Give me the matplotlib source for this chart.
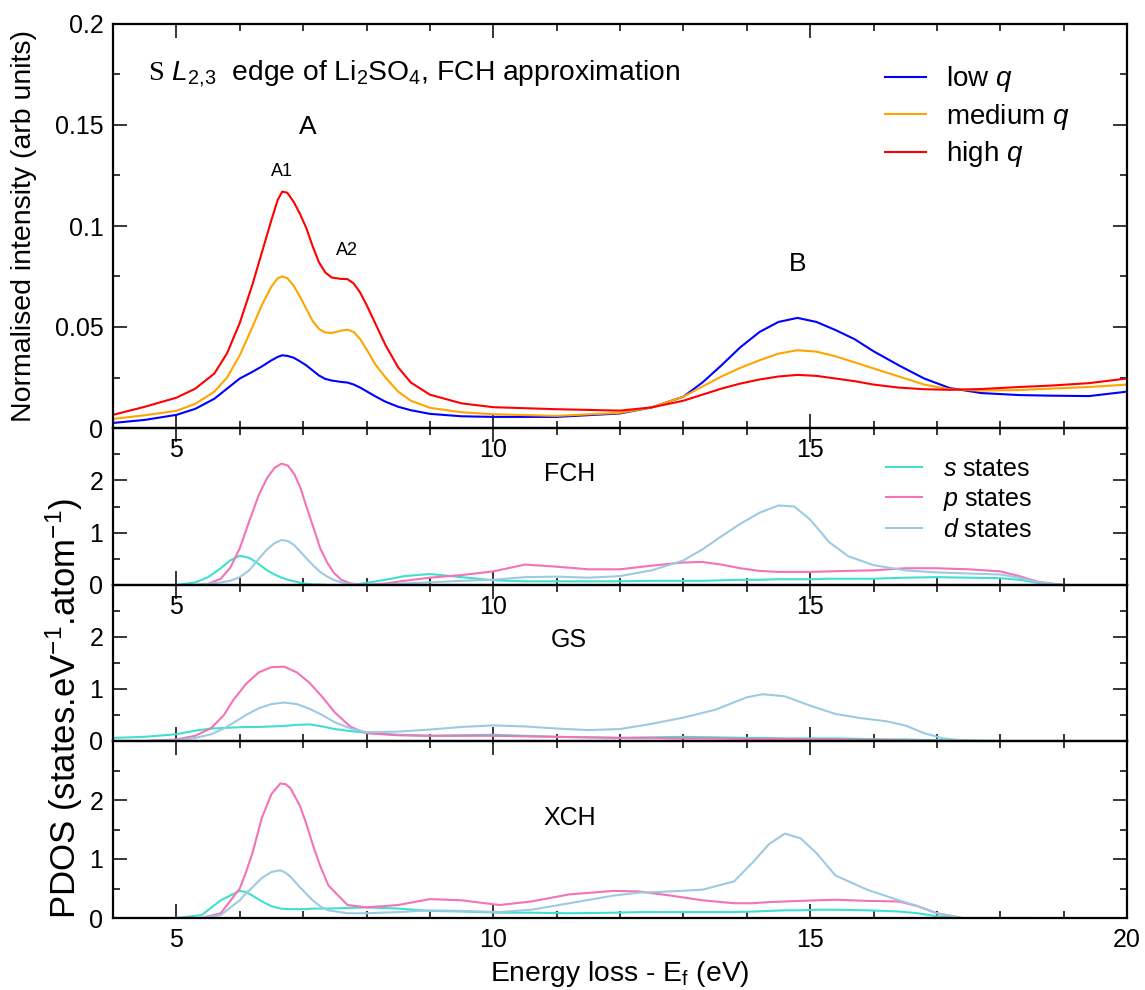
import numpy as np
import matplotlib
matplotlib.use("Agg")
import matplotlib.pyplot as plt
from matplotlib.ticker import MultipleLocator

plt.rcParams['font.family'] = ['Liberation Sans', 'DejaVu Sans']
plt.rcParams['mathtext.fontset'] = 'custom'
plt.rcParams['mathtext.rm'] = 'Liberation Sans'
plt.rcParams['mathtext.it'] = 'Liberation Sans:italic'
plt.rcParams['mathtext.sf'] = 'Liberation Serif'

# ---- top panel: S L2,3 ELNES for three momentum transfers ----
e_top = [4.0, 4.5, 5.0, 5.3, 5.6, 5.8, 6.0, 6.2, 6.35, 6.5, 6.6, 6.67, 6.75, 6.85, 6.95,
         7.05, 7.15, 7.25, 7.35, 7.45, 7.6, 7.7, 7.8, 7.9, 8.0, 8.15, 8.3, 8.5, 8.7, 9.0,
         9.5, 10.0, 11.0, 12.0, 12.5, 13.0, 13.3, 13.6, 13.9, 14.2, 14.5, 14.8, 15.1, 15.4,
         15.7, 16.0, 16.4, 16.8, 17.2, 17.7, 18.3, 18.8, 19.4, 20.0]
low_q = [0.0025, 0.0040, 0.0065, 0.0095, 0.0145, 0.0195, 0.0245, 0.0278, 0.0305, 0.0335,
         0.0352, 0.036, 0.0357, 0.0348, 0.033, 0.031, 0.0285, 0.026, 0.0243, 0.0235,
         0.0228, 0.0225, 0.0215, 0.0200, 0.0182, 0.0155, 0.0130, 0.0105, 0.0088, 0.0070,
         0.0058, 0.0055, 0.0055, 0.0072, 0.0102, 0.0155, 0.0225, 0.031, 0.040, 0.0475,
         0.0525, 0.0545, 0.0525, 0.0485, 0.044, 0.038, 0.031, 0.0245, 0.0198, 0.0173,
         0.0163, 0.016, 0.0158, 0.018]
medium_q = [0.0045, 0.0063, 0.0085, 0.012, 0.018, 0.025, 0.036, 0.050, 0.061, 0.070,
            0.0742, 0.075, 0.0742, 0.0705, 0.065, 0.059, 0.053, 0.049, 0.0473, 0.047,
            0.0482, 0.0487, 0.0475, 0.044, 0.039, 0.031, 0.025, 0.018, 0.0135, 0.0100,
            0.0078, 0.0068, 0.0060, 0.0075, 0.0102, 0.0155, 0.0205, 0.0255, 0.0298, 0.0335,
            0.0368, 0.0385, 0.0378, 0.0355, 0.0325, 0.0295, 0.0255, 0.0215, 0.0192, 0.0185,
            0.0188, 0.0195, 0.0203, 0.0215]
high_q = [0.0065, 0.0105, 0.015, 0.0195, 0.027, 0.037, 0.052, 0.071, 0.087, 0.103, 0.113,
          0.117, 0.1165, 0.112, 0.106, 0.099, 0.090, 0.082, 0.077, 0.0745, 0.0738, 0.0737,
          0.0715, 0.067, 0.061, 0.051, 0.041, 0.030, 0.0225, 0.0165, 0.0122, 0.0103,
          0.0093, 0.0086, 0.0102, 0.0135, 0.0165, 0.0195, 0.022, 0.024, 0.0255, 0.0263,
          0.0258, 0.0245, 0.0232, 0.0215, 0.0200, 0.0192, 0.0189, 0.0193, 0.0203, 0.0210,
          0.0222, 0.0245]
top_series = ['low $q$', 'medium $q$', 'high $q$']
top_colors = ['#0000ff', '#ffa500', '#ff0000']
top_yticks = [0, 0.05, 0.1, 0.15, 0.2]
top_yticklabels = ['0', '0.05', '0.1', '0.15', '0.2']

# ---- PDOS panels ----
e_fch = [5.0, 5.3, 5.5, 5.7, 5.85, 6.0, 6.15, 6.3, 6.43, 6.55, 6.66, 6.76, 6.86, 6.96,
         7.06, 7.17, 7.27, 7.38, 7.48, 7.6, 7.75, 8.0, 8.3, 8.6, 9.0, 9.5, 10.0, 10.5,
         11.0, 11.5, 12.0, 12.5, 13.0, 13.3, 13.6, 13.9, 14.2, 14.5, 14.75, 15.0, 15.3,
         15.6, 16.0, 16.5, 17.0, 17.5, 18.0, 18.3, 18.6, 19.0]
s_fch = [0.0, 0.05, 0.15, 0.32, 0.47, 0.56, 0.52, 0.4, 0.28, 0.2, 0.14, 0.1, 0.07, 0.04,
         0.02, 0.01, 0.01, 0.0, 0.0, 0.0, 0.0, 0.04, 0.1, 0.17, 0.21, 0.15, 0.09, 0.07,
         0.07, 0.07, 0.07, 0.08, 0.08, 0.08, 0.09, 0.1, 0.1, 0.11, 0.11, 0.11, 0.12, 0.12,
         0.12, 0.14, 0.15, 0.14, 0.13, 0.1, 0.04, 0.0]
p_fch = [0.0, 0.0, 0.02, 0.12, 0.33, 0.7, 1.22, 1.72, 2.04, 2.24, 2.32, 2.28, 2.12, 1.85,
         1.47, 1.07, 0.7, 0.43, 0.24, 0.1, 0.03, 0.0, 0.03, 0.08, 0.14, 0.19, 0.26, 0.39,
         0.35, 0.3, 0.3, 0.37, 0.43, 0.44, 0.39, 0.32, 0.27, 0.25, 0.25, 0.25, 0.26, 0.27,
         0.28, 0.32, 0.32, 0.3, 0.26, 0.17, 0.06, 0.0]
d_fch = [0.0, 0.0, 0.02, 0.05, 0.08, 0.15, 0.28, 0.5, 0.68, 0.8, 0.86, 0.84, 0.76, 0.63,
         0.5, 0.36, 0.25, 0.16, 0.1, 0.05, 0.02, 0.0, 0.01, 0.03, 0.05, 0.08, 0.1, 0.15,
         0.16, 0.14, 0.17, 0.28, 0.47, 0.68, 0.93, 1.17, 1.38, 1.52, 1.5, 1.25, 0.82, 0.55,
         0.38, 0.28, 0.24, 0.22, 0.2, 0.14, 0.05, 0.0]

e_gs = [4.0, 4.5, 5.0, 5.3, 5.55, 5.75, 5.9, 6.1, 6.3, 6.5, 6.7, 6.9, 7.1, 7.3, 7.5, 7.75,
        8.0, 8.5, 9.0, 9.5, 10.0, 10.5, 11.0, 11.5, 12.0, 12.5, 13.0, 13.5, 14.0, 14.25,
        14.6, 15.0, 15.4, 15.8, 16.2, 16.5, 16.8, 17.1, 17.5, 18.0]
s_gs = [0.06, 0.08, 0.13, 0.2, 0.24, 0.25, 0.26, 0.27, 0.27, 0.28, 0.29, 0.31, 0.32, 0.28,
        0.23, 0.19, 0.16, 0.12, 0.1, 0.11, 0.12, 0.1, 0.08, 0.07, 0.06, 0.07, 0.08, 0.07,
        0.06, 0.06, 0.05, 0.05, 0.05, 0.04, 0.03, 0.03, 0.02, 0.02, 0.01, 0.0]
p_gs = [0.0, 0.0, 0.03, 0.1, 0.25, 0.5, 0.79, 1.1, 1.32, 1.42, 1.43, 1.32, 1.12, 0.85,
        0.55, 0.27, 0.15, 0.11, 0.1, 0.1, 0.1, 0.09, 0.08, 0.07, 0.06, 0.06, 0.05, 0.05,
        0.04, 0.04, 0.04, 0.03, 0.03, 0.02, 0.02, 0.01, 0.01, 0.0, 0.0, 0.0]
d_gs = [0.0, 0.0, 0.02, 0.06, 0.13, 0.24, 0.35, 0.5, 0.63, 0.71, 0.74, 0.71, 0.62, 0.5,
        0.36, 0.24, 0.17, 0.18, 0.22, 0.27, 0.3, 0.28, 0.24, 0.21, 0.23, 0.33, 0.45, 0.6,
        0.84, 0.9, 0.86, 0.68, 0.52, 0.44, 0.38, 0.3, 0.15, 0.05, 0.0, 0.0]

e_xch = [4.0, 5.0, 5.4, 5.7, 6.0, 6.1, 6.2, 6.35, 6.5, 6.64, 6.72, 6.8, 6.95, 7.05, 7.15,
         7.27, 7.4, 7.7, 8.0, 8.5, 9.0, 9.5, 10.1, 10.6, 11.2, 11.9, 12.3, 12.8, 13.3, 13.8,
         14.1, 14.35, 14.6, 14.85, 15.1, 15.4, 15.9, 16.4, 16.7, 17.0, 17.4, 18.0, 18.5]
s_xch = [0.0, 0.0, 0.05, 0.3, 0.46, 0.44, 0.38, 0.28, 0.2, 0.16, 0.155, 0.15, 0.15, 0.15,
         0.16, 0.16, 0.16, 0.17, 0.18, 0.16, 0.12, 0.11, 0.09, 0.09, 0.08, 0.09, 0.1, 0.1,
         0.1, 0.1, 0.11, 0.12, 0.13, 0.13, 0.14, 0.14, 0.13, 0.11, 0.08, 0.03, 0.0, 0.0, 0.0]
p_xch = [0.0, 0.0, 0.0, 0.08, 0.5, 0.78, 1.1, 1.7, 2.1, 2.28, 2.27, 2.2, 1.9, 1.6, 1.25,
         0.88, 0.55, 0.22, 0.18, 0.22, 0.32, 0.3, 0.22, 0.28, 0.4, 0.46, 0.45, 0.38, 0.3,
         0.25, 0.25, 0.27, 0.28, 0.29, 0.3, 0.31, 0.29, 0.28, 0.2, 0.08, 0.0, 0.0, 0.0]
d_xch = [0.0, 0.0, 0.0, 0.05, 0.3, 0.42, 0.52, 0.68, 0.78, 0.81, 0.77, 0.7, 0.52, 0.41,
         0.3, 0.2, 0.13, 0.08, 0.08, 0.1, 0.13, 0.12, 0.1, 0.14, 0.25, 0.38, 0.43, 0.45,
         0.48, 0.62, 0.95, 1.25, 1.43, 1.35, 1.1, 0.72, 0.48, 0.3, 0.2, 0.08, 0.0, 0.0, 0.0]

pdos_labels = ['$s$ states', '$p$ states', '$d$ states']
pdos_colors = ['#40e0d0', '#f472b6', '#9ecae1']
panel_names = ['FCH', 'GS', 'XCH']

fig = plt.figure(figsize=(11.45, 9.9), dpi=100)
L, W = 113 / 1145, 1014 / 1145
def box(y0, y1):
    return [L, 1 - y1 / 990, W, (y1 - y0) / 990]

ax_top = fig.add_axes(box(24, 428))
ax_fch = fig.add_axes(box(428, 585))
ax_gs = fig.add_axes(box(585, 741))
ax_xch = fig.add_axes(box(741, 918))
axes = [ax_top, ax_fch, ax_gs, ax_xch]

for ax in axes:
    ax.set_facecolor('none')
    ax.set_xlim(4, 20)
    ax.xaxis.set_major_locator(MultipleLocator(5))
    ax.xaxis.set_minor_locator(MultipleLocator(1))
    ax.tick_params(which='both', direction='in', top=True, right=True,
                   width=1.1, labelsize=18, pad=7)
    ax.tick_params(which='major', length=10)
    ax.tick_params(which='minor', length=5)
    for sp in ax.spines.values():
        sp.set_linewidth(1.6)

# top panel
for y, lab, c in zip([low_q, medium_q, high_q], top_series, top_colors):
    ax_top.plot(e_top, y, color=c, lw=1.5, label=lab)
ax_top.set_ylim(0, 0.2)
ax_top.set_yticks(top_yticks)
ax_top.set_yticklabels(top_yticklabels)
ax_top.yaxis.set_minor_locator(MultipleLocator(0.025))
ax_top.set_xticks([5, 10, 15, 20])
ax_top.set_xticklabels(['5', '10', '15', ''])
ax_top.legend(loc='upper left', bbox_to_anchor=(0.737, 0.962), frameon=False,
              fontsize=20, handlelength=1.45, handletextpad=0.72, labelspacing=0.27)
ax_top.text(4.55, 0.1755, r'$\mathsf{S}\ \mathit{L}_{\mathit{2,\!3}}$  edge of Li$_2$SO$_4$, FCH approximation',
            fontsize=20.3, va='center', ha='left')
ax_top.text(7.08, 0.149, 'A', fontsize=19, ha='center', va='center')
ax_top.text(6.67, 0.127, 'A1', fontsize=13, ha='center', va='center')
ax_top.text(7.69, 0.088, 'A2', fontsize=13, ha='center', va='center')
ax_top.text(14.8, 0.081, 'B', fontsize=19, ha='center', va='center')

# PDOS panels
pdos = [(ax_fch, e_fch, [s_fch, p_fch, d_fch]),
        (ax_gs, e_gs, [s_gs, p_gs, d_gs]),
        (ax_xch, e_xch, [s_xch, p_xch, d_xch])]
name_pos = [2.13, 1.94, 1.69]
for (ax, e, ys), name, ny in zip(pdos, panel_names, name_pos):
    for y, lab, c in zip(ys, pdos_labels, pdos_colors):
        ax.plot(e, y, color=c, lw=1.5, label=lab)
    ax.set_ylim(0, 3)
    ax.set_yticks([0, 1, 2])
    ax.yaxis.set_minor_locator(MultipleLocator(0.5))
    ax.text(11.2, ny, name, fontsize=18, ha='center', va='center')

ax_fch.set_xticks([5, 10, 15, 20])
ax_fch.set_xticklabels(['5', '10', '15', ''])
ax_gs.set_xticks([5, 10, 15, 20])
ax_gs.set_xticklabels(['', '', '', ''])
ax_xch.set_xlabel('Energy loss - E$_\\mathrm{f}$ (eV)', fontsize=20.3, labelpad=5)
ax_fch.legend(loc='upper left', bbox_to_anchor=(0.74, 0.958), frameon=False,
              fontsize=18, handlelength=1.45, handletextpad=0.85, labelspacing=0.22)

fig.text(24 / 1145, 1 - 226 / 990, 'Normalised intensity (arb units)',
         rotation=90, fontsize=20.5, ha='center', va='center')
fig.text(64 / 1145, 1 - 708 / 990, 'PDOS (states.eV$^{-1}$.atom$^{-1}$)',
         rotation=90, fontsize=25, ha='center', va='center')

fig.savefig('out.png', dpi=100)
